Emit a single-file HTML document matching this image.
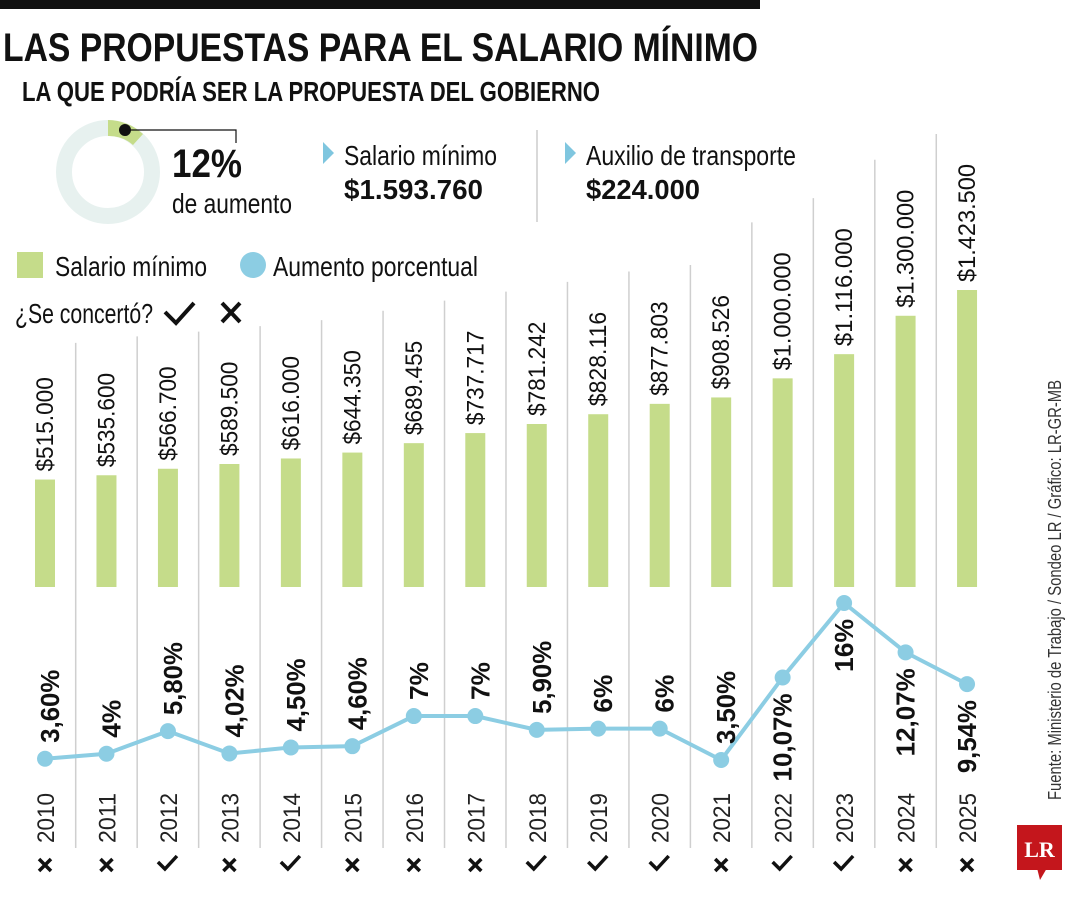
<!DOCTYPE html>
<html><head><meta charset="utf-8"><style>
body{margin:0;background:#fff}
svg{display:block;font-family:"Liberation Sans",sans-serif}
</style></head><body>
<svg id="c" width="1080" height="900" viewBox="0 0 1080 900">
<rect x="0" y="0" width="760" height="9" fill="#111"/>
<text x="3" y="61" font-size="40" font-weight="bold" textLength="755" lengthAdjust="spacingAndGlyphs" fill="#111">LAS PROPUESTAS PARA EL SALARIO MÍNIMO</text>
<text x="22" y="101" font-size="28" font-weight="bold" textLength="578" lengthAdjust="spacingAndGlyphs" fill="#111">LA QUE PODRÍA SER LA PROPUESTA DEL GOBIERNO</text>
<g>
<circle cx="108" cy="172" r="44" fill="none" stroke="#e7f1ef" stroke-width="16"/>
<path d="M108 120 A52 52 0 0 1 143 134 L133 145 A36 36 0 0 0 108 136 Z" fill="#c5dc8a"/>
<circle cx="125" cy="130" r="6" fill="#111"/>
<polyline points="125,130 236,130 236,143" fill="none" stroke="#111" stroke-width="1.2"/>
</g>
<text x="172" y="177" font-size="40" font-weight="bold" textLength="70" lengthAdjust="spacingAndGlyphs" fill="#111">12%</text>
<text x="172" y="213" font-size="28" textLength="120" lengthAdjust="spacingAndGlyphs" fill="#111">de aumento</text>
<polygon points="323,142 334,153 323,164" fill="#7fc6df"/>
<text x="344" y="165" font-size="28" textLength="153" lengthAdjust="spacingAndGlyphs" fill="#111">Salario mínimo</text>
<text x="344" y="199" font-size="28" font-weight="bold" textLength="139" lengthAdjust="spacingAndGlyphs" fill="#111">$1.593.760</text>
<line x1="537" y1="130" x2="537" y2="222" stroke="#ccc" stroke-width="1.5"/>
<polygon points="565,142 576,153 565,164" fill="#7fc6df"/>
<text x="586" y="165" font-size="28" textLength="210" lengthAdjust="spacingAndGlyphs" fill="#111">Auxilio de transporte</text>
<text x="586" y="199" font-size="28" font-weight="bold" textLength="114" lengthAdjust="spacingAndGlyphs" fill="#111">$224.000</text>
<g>
<rect x="17" y="252" width="26" height="26" fill="#c5dc8a"/>
<text x="55" y="276" font-size="28" textLength="152" lengthAdjust="spacingAndGlyphs" fill="#111">Salario mínimo</text>
<circle cx="253" cy="265" r="13" fill="#8ccde3"/>
<text x="273" y="276" font-size="28" textLength="205" lengthAdjust="spacingAndGlyphs" fill="#111">Aumento porcentual</text>
<text x="15" y="323" font-size="28" textLength="138" lengthAdjust="spacingAndGlyphs" fill="#111">¿Se concertó?</text>
<polyline points="165,312 176,323 194,303" fill="none" stroke="#111" stroke-width="4"/>
<path d="M222 303 L240 322 M240 303 L222 322" stroke="#111" stroke-width="4"/>
</g>
<g id="plot"></g>
<text transform="translate(1061,800) rotate(-90)" font-size="18" textLength="420" lengthAdjust="spacingAndGlyphs" fill="#333">Fuente: Ministerio de Trabajo / Sondeo LR / Gráfico: LR-GR-MB</text>
<g>
<rect x="1017" y="825" width="45" height="45" fill="#c4161c"/>
<polygon points="1037,868 1047,868 1040,880" fill="#c4161c"/>
<text x="1039.5" y="857" font-family="Liberation Serif,serif" font-weight="bold" font-size="22" fill="#fff" text-anchor="middle">LR</text>
</g>
</svg>
<script>
const years=["2010","2011","2012","2013","2014","2015","2016","2017","2018","2019","2020","2021","2022","2023","2024","2025"];
const salaries=[515000,535600,566700,589500,616000,644350,689455,737717,781242,828116,877803,908526,1000000,1116000,1300000,1423500];
const salaryLabels=["$515.000","$535.600","$566.700","$589.500","$616.000","$644.350","$689.455","$737.717","$781.242","$828.116","$877.803","$908.526","$1.000.000","$1.116.000","$1.300.000","$1.423.500"];
const increases=[3.6,4,5.8,4.02,4.5,4.6,7,7,5.9,6,6,3.5,10.07,16,12.07,9.54];
const increaseLabels=["3,60%","4%","5,80%","4,02%","4,50%","4,60%","7%","7%","5,90%","6%","6%","3,50%","10,07%","16%","12,07%","9,54%"];
const concerted=[false,false,true,false,true,false,false,false,true,true,true,false,true,true,false,false];
const NS="http://www.w3.org/2000/svg";
const g=document.getElementById('plot');
const xS=i=>45+i*61.47;
const base=587;
const hS=v=>v*297/1423500;
const yS=v=>760-(v-3.5)*12.56;
function el(t,a){const e=document.createElementNS(NS,t);for(const k in a)e.setAttribute(k,a[k]);g.appendChild(e);return e;}
function pctLen(s){let L=0;for(const ch of s){L+=ch===','?5:(ch==='%'?23:15);}return L;}
const labTop=salaries.map((s,i)=>base-hS(s)-8-salaryLabels[i].length*11.8);
for(let i=0;i<years.length-1;i++){
  const top=Math.max(130,labTop[i+1]-30);
  const l=el('line',{x1:xS(i)+30.7,x2:xS(i)+30.7,y1:top,y2:848,stroke:'#cfcfcf','stroke-width':1.5});
  
  
}
years.forEach((y,i)=>{
  const x=xS(i),h=hS(salaries[i]);
  const b=el('rect',{x:x-10,y:base-h,width:20,height:h,fill:'#c5dc8a'});
  
  
  const len=salaryLabels[i].length*11.8;
  const t=el('text',{transform:`translate(${x+8},${base-h-8}) rotate(-90)`,'font-size':24,textLength:len,lengthAdjust:'spacingAndGlyphs',fill:'#111'});
  t.textContent=salaryLabels[i];
  
  
  const yt=el('text',{transform:`translate(${x+9},843) rotate(-90)`,'font-size':24,textLength:50,lengthAdjust:'spacingAndGlyphs',fill:'#222'});
  yt.textContent=y;
  
  
  let m;
  if(concerted[i]) m=el('polyline',{points:`${x-10},862 ${x-3},869 ${x+9},856`,fill:'none',stroke:'#111','stroke-width':3.5});
  else m=el('path',{d:`M${x-6} 859 L${x+6} 871 M${x+6} 859 L${x-6} 871`,stroke:'#111','stroke-width':3.5});
  
  
});
const pts=increases.map((v,i)=>xS(i)+','+yS(v)).join(' ');
const pl=el('polyline',{points:pts,fill:'none',stroke:'#8ccde3','stroke-width':4});


increases.forEach((v,i)=>{
  const x=xS(i),y=yS(v);
  const c=el('circle',{cx:x,cy:y,r:8,fill:'#8ccde3'});
  
  
  const len=pctLen(increaseLabels[i]);
  let bottom,tx;
  if(v>=9){bottom=y+16+len;tx=x+9;}else{bottom=y-16;tx=x+14;}
  const t=el('text',{transform:`translate(${tx},${bottom}) rotate(-90)`,'font-size':26,'font-weight':'bold',textLength:len,lengthAdjust:'spacingAndGlyphs',fill:'#111'});
  t.textContent=increaseLabels[i];
  
  
});
</script>
</body></html>
